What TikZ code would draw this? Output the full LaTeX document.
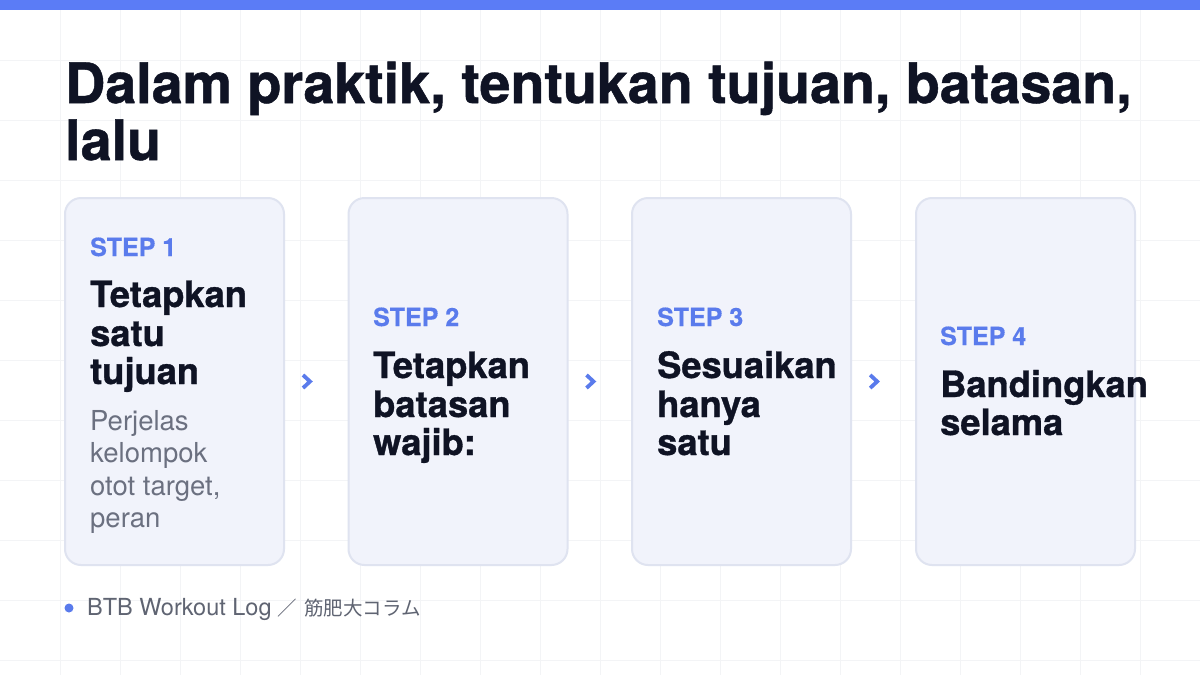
\documentclass[tikz,border=0pt]{standalone}
\usepackage{fontspec}
\setmainfont{TeX Gyre Heros}
\newfontfamily\heavy{TeX Gyre Heros}[BoldFeatures={FakeBold=0.9}]
\newfontfamily\semiheavy{TeX Gyre Heros}[BoldFeatures={FakeBold=0.5}]
\newfontfamily\cjk{Noto Sans CJK JP}
\usetikzlibrary{calc}
\definecolor{topbar}{HTML}{5B7CF6}
\definecolor{accent}{HTML}{5A7BEC}
\definecolor{ink}{HTML}{0F1324}
\definecolor{bodygrey}{HTML}{6B7080}
\definecolor{footgrey}{HTML}{5F6472}
\definecolor{cardfill}{HTML}{F1F3FB}
\definecolor{cardline}{HTML}{DFE3F0}
\definecolor{gridc}{HTML}{F3F4F6}
\tikzset{
  card/.style={draw=cardline, line width=2pt, fill=cardfill, rounded corners=16pt,
    minimum width=219pt, minimum height=367pt, inner sep=0pt},
  steplbl/.style={anchor=base west, inner sep=0pt, text=accent, font=\semiheavy\fontsize{25}{30}\selectfont\bfseries},
  cardtitle/.style={anchor=base west, inner sep=0pt, text=ink, font=\heavy\fontsize{36.3}{39}\selectfont\bfseries},
  cardbody/.style={anchor=base west, inner sep=0pt, text=bodygrey, font=\fontsize{27.5}{32}\selectfont},
  maintitle/.style={anchor=base west, inner sep=0pt, text=ink, font=\heavy\fontsize{55.6}{60}\selectfont\bfseries},
  foot/.style={anchor=base west, inner sep=0pt, text=footgrey, font=\fontsize{23.5}{24}\selectfont},
  chev/.style={draw=accent, line width=3.8pt, line join=miter},
}
\begin{document}
\begin{tikzpicture}[x=1pt,y=-1pt]
\useasboundingbox (0,0) rectangle (1200,675);
\fill[white] (0,0) rectangle (1200,675);
\foreach \i in {1,...,19} \draw[gridc, line width=1pt] (\i*60,0) -- (\i*60,675);
\foreach \j in {1,...,11} \draw[gridc, line width=1pt] (0,\j*60) -- (1200,\j*60);
\fill[topbar] (0,0) rectangle (1200,10);

% title
\node[maintitle] (t1) at (65,103) {Dalam praktik, tentukan tujuan, batasan,};
\node[maintitle] (t2) at (65,160) {lalu};

% cards
\node[card] (c1) at (174.5,381.5) {};
\node[card] (c2) at (458,381.5) {};
\node[card] (c3) at (741.5,381.5) {};
\node[card] (c4) at (1025.5,381.5) {};

% chevrons between cards
\foreach \a/\b in {c1/c2,c2/c3,c3/c4}{
  \coordinate (m) at ($(\a.east)!0.36!(\b.west)$);
  \draw[chev] ($(m)+(-4.5,-6.5)$) -- ($(m)+(2.5,0)$) -- ($(m)+(-4.5,6.5)$);
}

% card 1
\node[steplbl] (s1) at (90,256) {STEP 1};
\node[cardtitle] (h1a) at (90,307) {Tetapkan};
\node[cardtitle] (h1b) at (90,346) {satu};
\node[cardtitle] (h1c) at (90,384) {tujuan};
\node[cardbody] (b1a) at (90,430) {Perjelas};
\node[cardbody] (b1b) at (90,462) {kelompok};
\node[cardbody] (b1c) at (90,495) {otot target,};
\node[cardbody] (b1d) at (90,527) {peran};

% card 2
\node[steplbl] (s2) at (373,326) {STEP 2};
\node[cardtitle] (h2a) at (373,378) {Tetapkan};
\node[cardtitle] (h2b) at (373,417) {batasan};
\node[cardtitle] (h2c) at (373,455) {wajib:};

% card 3
\node[steplbl] (s3) at (657,326) {STEP 3};
\node[cardtitle] (h3a) at (657,378) {Sesuaikan};
\node[cardtitle] (h3b) at (657,417) {hanya};
\node[cardtitle] (h3c) at (657,455) {satu};

% card 4
\node[steplbl] (s4) at (940,345) {STEP 4};
\node[cardtitle] (h4a) at (940,397) {Bandingkan};
\node[cardtitle] (h4b) at (940,435) {selama};

% footer
\node[circle, fill=accent, minimum size=9pt, inner sep=0pt] (dot) at (69,608) {};
\node[foot] (ft) at (87,615) {BTB Workout Log\hspace{6pt}{\cjk\fontsize{19.5}{24}\selectfont ／\hspace{7pt}筋肥大コラム}};
\end{tikzpicture}
\end{document}
